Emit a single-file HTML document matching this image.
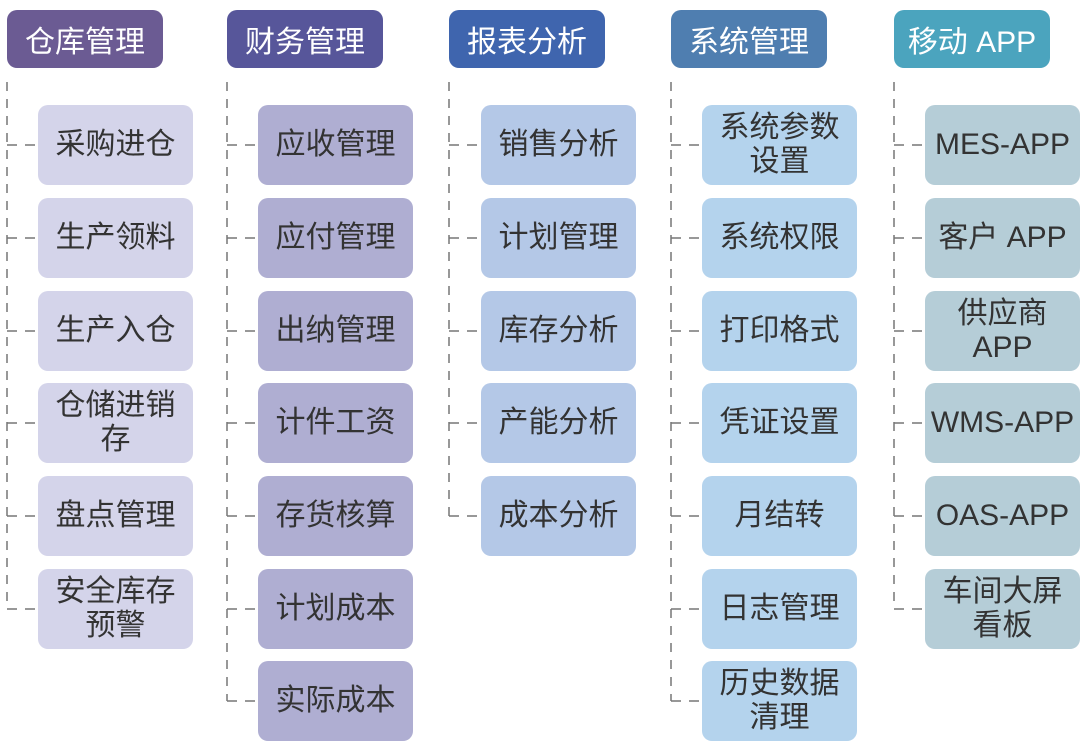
<!DOCTYPE html>
<html><head><meta charset="utf-8"><style>
body{margin:0;width:1083px;height:737px;background:#fff;overflow:hidden;position:relative;font-family:"Liberation Sans","Noto Sans CJK SC",sans-serif}
.h,.b{position:absolute;display:flex;align-items:center;justify-content:center;text-align:center;border-radius:10px;box-sizing:border-box}
.h{height:58px;top:10px;width:156px;color:#fff;font-size:30px}
.b{width:155px;height:80px;color:#333;font-size:30px;line-height:34px;padding:0;white-space:nowrap}
svg{position:absolute;left:0;top:0}
</style></head><body>
<svg width="1083" height="737"><g stroke="#777" stroke-width="1.5" stroke-dasharray="9,8" fill="none">
<path d="M7 82V609M227 82V701M449 82V516M671 82V701M894 82V609"/>
</g><g id="hz" stroke="#777" stroke-width="1.5" fill="none"></g></svg>
<div id="c"></div>
<script>
var cols=[
{hx:7,hc:"#6b5b93",bx:38,bc:"#d4d4ea",t:"仓库管理",items:["采购进仓","生产领料","生产入仓","仓储进销<br>存","盘点管理","安全库存<br>预警"]},
{hx:227,hc:"#57569a",bx:258,bc:"#afaed2",t:"财务管理",items:["应收管理","应付管理","出纳管理","计件工资","存货核算","计划成本","实际成本"]},
{hx:449,hc:"#3f65ae",bx:481,bc:"#b4c8e7",t:"报表分析",items:["销售分析","计划管理","库存分析","产能分析","成本分析"]},
{hx:671,hc:"#4f7eb0",bx:702,bc:"#b4d3ed",t:"系统管理",items:["系统参数<br>设置","系统权限","打印格式","凭证设置","月结转","日志管理","历史数据<br>清理"]},
{hx:894,hc:"#4ba4be",bx:925,bc:"#b5cdd7",t:"移动 APP",items:["MES-APP","客户 APP","供应商<br>APP","WMS-APP","OAS-APP","车间大屏<br>看板"]}];
var tops=[105,198,291,383,476,569,661],h="",s="";
cols.forEach(function(c){
h+='<div class="h" style="left:'+c.hx+'px;background:'+c.hc+'">'+c.t+'</div>';
c.items.forEach(function(it,i){
h+='<div class="b" style="left:'+c.bx+'px;top:'+tops[i]+'px;background:'+c.bc+'">'+it+'</div>';
var y=tops[i]+40;
s+='<path d="M'+c.hx+' '+y+'H'+(c.hx+10)+'M'+(c.hx+18)+' '+y+'H'+(c.hx+28)+'"/>';
});});
document.getElementById("c").innerHTML=h;
document.getElementById("hz").innerHTML=s;
</script>
</body></html>
